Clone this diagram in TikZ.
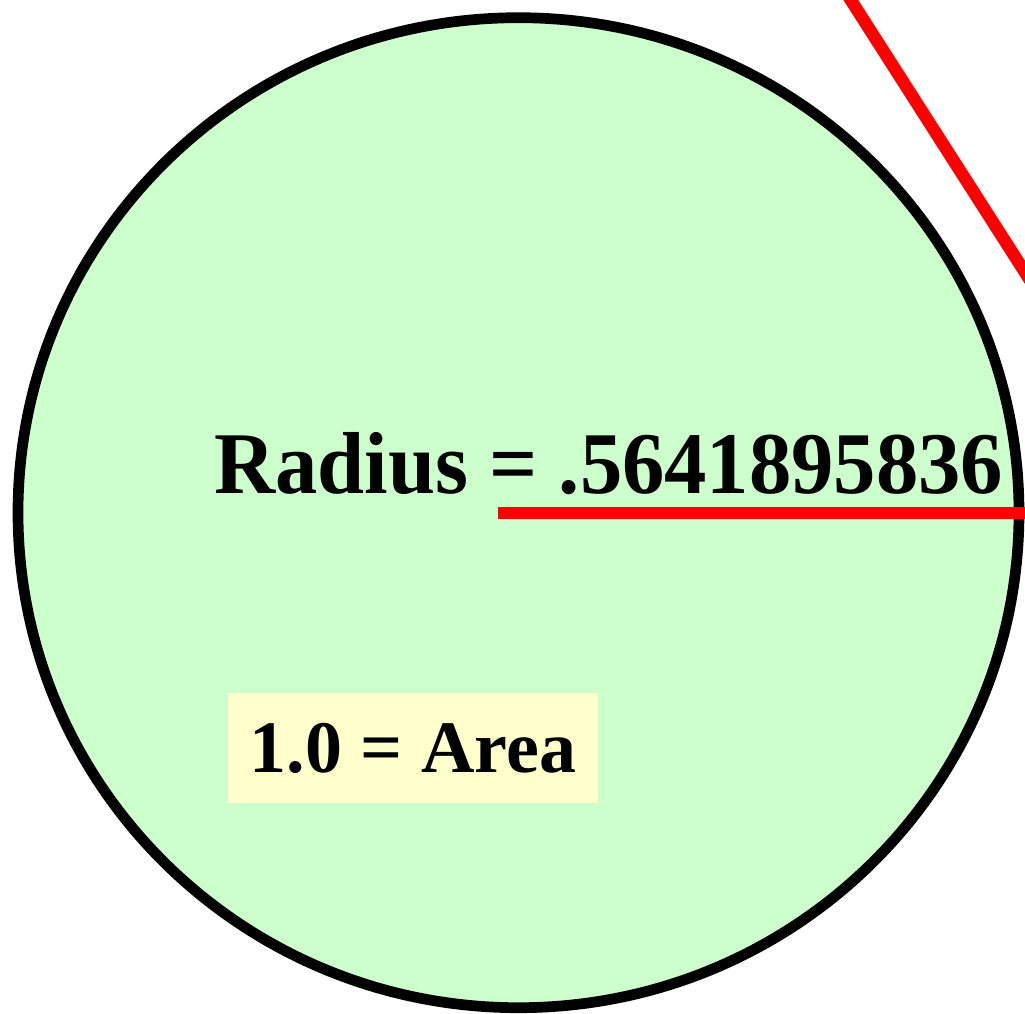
\documentclass[tikz,border=0pt]{standalone}
\usepackage{fontspec}
\setmainfont{Liberation Serif}
\definecolor{circgreen}{HTML}{CCFFCC}
\definecolor{boxyellow}{HTML}{FFFFCC}
\definecolor{linered}{HTML}{FF0000}
\tikzset{
  rim/.style={draw=black, line width=10.7pt, fill=circgreen},
  redline/.style={draw=linered, line width=12.5pt},
  bigtext/.style={inner sep=0pt, font=\bfseries\fontsize{88}{88}\selectfont},
  areabox/.style={fill=boxyellow, inner sep=0pt, minimum width=370pt, minimum height=110pt,
                  font=\bfseries\fontsize{74}{74}\selectfont}
}
\begin{document}
\begin{tikzpicture}[x=1pt, y=-1pt]
\useasboundingbox (0,0) rectangle (1025,1013);
\clip (0,0) rectangle (1025,1013);
\draw[rim] (518.5,512.7) ellipse [x radius=500.5, y radius=495];
\coordinate (hstart) at (498,513);
\coordinate (hend) at (1060,513);
\coordinate (dstart) at (838,-20);
\coordinate (dend) at (1051,313);
\draw[redline] (hstart) -- (hend);
\draw[redline] (dstart) -- (dend);
\node[bigtext, anchor=base west] (radius) at (214,493) {\scalebox{0.962}[1]{Radius = .5641895836}};
\node[areabox] (area) at (413,748) {1.0 = Area};
\end{tikzpicture}
\end{document}
